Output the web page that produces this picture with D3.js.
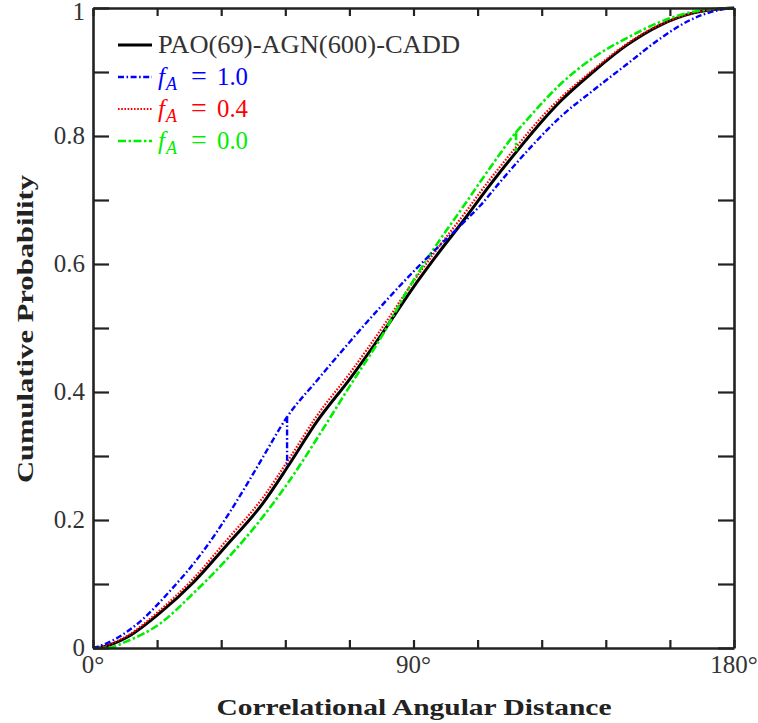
<!DOCTYPE html>
<html>
<head>
<meta charset="utf-8">
<script src="https://cdn.jsdelivr.net/npm/d3@7"></script>
<style>
  html, body { margin: 0; padding: 0; background: #fff; }
  svg { display: block; }
  text { font-family: "Liberation Serif", "DejaVu Serif", serif; }
</style>
</head>
<body>
<svg id="chart" width="758" height="723"></svg>
<script>
// ---------------- data ----------------
const xTickValues = [0, 18, 36, 54, 72, 90, 108, 126, 144, 162, 180];
const xTickLabels = { 0: "0°", 90: "90°", 180: "180°" };
const yTickValues = [0, 0.1, 0.2, 0.3, 0.4, 0.5, 0.6, 0.7, 0.8, 0.9, 1];
const yTickLabels = { 0: "0", 0.2: "0.2", 0.4: "0.4", 0.6: "0.6", 0.8: "0.8", 1: "1" };

const seriesNames = ["PAO(69)-AGN(600)-CADD", "f_A = 1.0", "f_A = 0.4", "f_A = 0.0"];

// [angle (deg), cumulative probability]
const paoData = [[0,0],[3,0.002],[9.3,0.016],[18.8,0.055],[28.1,0.102],[37.3,0.159],[47.7,0.226],[55,0.286],[62.9,0.354],[72.2,0.421],[81.4,0.493],[90,0.564],[95.5,0.606],[105,0.675],[108.7,0.703],[119,0.776],[126.4,0.825],[131.4,0.855],[140.4,0.9],[149.9,0.942],[159.2,0.973],[168.4,0.992],[175,0.998],[180,1]];
const fa10Data = [[0,0],[2.8,0.005],[12.1,0.036],[21.6,0.089],[30.9,0.151],[38.5,0.213],[44.1,0.264],[47.7,0.298],[54.5,0.361],[62.9,0.418],[72.2,0.479],[81.4,0.537],[91,0.594],[95.5,0.619],[105,0.67],[108.7,0.691],[114.3,0.728],[123.5,0.786],[131.1,0.829],[140.4,0.871],[149.9,0.912],[159.2,0.952],[168.4,0.983],[176,0.997],[180,1]];
const fa10Spike = [[54.5,0.361],[54.5,0.286]];
const fa04Data = [[0,0],[3,0.003],[9.3,0.018],[18.8,0.059],[28.1,0.108],[37.3,0.167],[47.7,0.235],[55,0.295],[62.9,0.363],[72.2,0.43],[81.4,0.502],[90,0.573],[95.5,0.615],[105,0.684],[108.7,0.712],[119,0.784],[126.4,0.832],[131.4,0.86],[140.4,0.903],[149.9,0.944],[159.2,0.974],[168.4,0.992],[175,0.998],[180,1]];
const fa00Data = [[0,0],[5,0.001],[9.3,0.01],[18.8,0.038],[28.1,0.085],[37.3,0.137],[47.7,0.205],[55,0.26],[65.7,0.352],[72.2,0.41],[81.4,0.49],[88,0.556],[95.5,0.622],[105,0.698],[108.7,0.728],[114,0.77],[118.8,0.806],[121.8,0.825],[131.1,0.88],[140.4,0.922],[149.9,0.953],[159.2,0.978],[168.4,0.994],[175,0.999],[180,1]];
const fa00Spike = [[118.8,0.806],[118.8,0.776]];

// ---------------- layout ----------------
(function () {
const svg = d3.select("#chart");
const pLeft = 93, pRight = 734, pTop = 8, pBottom = 648;
const x = d3.scaleLinear().domain([0, 180]).range([pLeft, pRight]);
const y = d3.scaleLinear().domain([0, 1]).range([pBottom, pTop]);
const axisColor = "#222";
const labelColor = "#333";

const styles = [
  { color: "#000000", width: 3,   dash: null },
  { color: "#0000ff", width: 2.4, dash: "6,2.5,1.6,2.5" },
  { color: "#ff0000", width: 2.2, dash: "1.6,1.6" },
  { color: "#00ee00", width: 2.6, dash: "8,2.5,2.5,2.5" }
];

// curves
const line = d3.line().x(d => x(d[0])).y(d => y(d[1])).curve(d3.curveMonotoneX);
const straight = d3.line().x(d => x(d[0])).y(d => y(d[1]));
const plot = svg.append("g");
function drawSeries(data, st, spike) {
  const p = plot.append("path").datum(data).attr("d", line)
    .attr("fill", "none").attr("stroke", st.color).attr("stroke-width", st.width)
    .attr("stroke-linejoin", "round");
  if (st.dash) p.attr("stroke-dasharray", st.dash);
  if (spike) {
    const s = plot.append("path").datum(spike).attr("d", straight)
      .attr("fill", "none").attr("stroke", st.color).attr("stroke-width", st.width);
    if (st.dash) s.attr("stroke-dasharray", st.dash);
  }
}
drawSeries(paoData, styles[0]);
drawSeries(fa04Data, styles[2]);
drawSeries(fa00Data, styles[3], fa00Spike);
drawSeries(fa10Data, styles[1], fa10Spike);

// axes (box with inward ticks)
const xMinorLen = 8, yTickLen = 16;
const axB = d3.axisBottom(x).tickValues(xTickValues).tickSizeInner(-xMinorLen).tickSizeOuter(0).tickFormat("");
const axT = d3.axisTop(x).tickValues(xTickValues).tickSizeInner(-xMinorLen).tickSizeOuter(0).tickFormat("");
const axL = d3.axisLeft(y).tickValues(yTickValues).tickSizeInner(-yTickLen).tickSizeOuter(0).tickFormat("");
const axR = d3.axisRight(y).tickValues(yTickValues).tickSizeInner(-yTickLen).tickSizeOuter(0).tickFormat("");
function styleAxis(g) {
  g.selectAll("path,line").attr("stroke", axisColor).attr("stroke-width", 2.2);
  g.select(".domain").attr("stroke-width", 2.6);
}
svg.append("g").attr("transform", `translate(0,${pBottom})`).call(axB).call(styleAxis);
svg.append("g").attr("transform", `translate(0,${pTop})`).call(axT).call(styleAxis);
svg.append("g").attr("transform", `translate(${pLeft},0)`).call(axL).call(styleAxis);
svg.append("g").attr("transform", `translate(${pRight},0)`).call(axR).call(styleAxis);

// tick labels
svg.append("g").selectAll("text").data(Object.keys(xTickLabels).map(Number)).join("text")
  .attr("x", d => x(d)).attr("y", 673).attr("text-anchor", "middle")
  .attr("font-size", 25).attr("fill", labelColor)
  .text(d => xTickLabels[d]);
svg.append("g").selectAll("text").data(Object.keys(yTickLabels).map(Number)).join("text")
  .attr("x", 85).attr("y", d => Math.max(y(d) + 8, 20)).attr("text-anchor", "end")
  .attr("font-size", 25).attr("fill", labelColor)
  .text(d => yTickLabels[d]);

// axis titles
svg.append("text").attr("x", 414).attr("y", 715).attr("text-anchor", "middle")
  .attr("font-size", 23).attr("font-weight", "bold").attr("fill", axisColor)
  .attr("textLength", 395).attr("lengthAdjust", "spacingAndGlyphs")
  .text("Correlational Angular Distance");
svg.append("text").attr("transform", "translate(33,329) rotate(-90)").attr("text-anchor", "middle")
  .attr("font-size", 23).attr("font-weight", "bold").attr("fill", axisColor)
  .attr("textLength", 308).attr("lengthAdjust", "spacingAndGlyphs")
  .text("Cumulative Probability");

// legend
const legendRows = [53, 85, 117, 149];
const lg = svg.append("g");
seriesNames.forEach((name, i) => {
  const st = styles[i];
  const by = legendRows[i];
  const l = lg.append("line").attr("x1", 118).attr("x2", 152).attr("y1", by - 8).attr("y2", by - 8)
    .attr("stroke", st.color).attr("stroke-width", st.width);
  if (st.dash) l.attr("stroke-dasharray", st.dash);
  const t = lg.append("text").attr("x", 158).attr("y", by).attr("font-size", 25)
    .attr("fill", i === 0 ? "#333" : st.color);
  if (i === 0) {
    t.attr("textLength", 302).attr("lengthAdjust", "spacingAndGlyphs").text(name);
  } else {
    const val = name.split("= ")[1];
    t.append("tspan").attr("x", 158).attr("font-style", "italic").text("f");
    t.append("tspan").attr("x", 166).attr("font-style", "italic").attr("font-size", 18).attr("dy", 5).text("A");
    t.append("tspan").attr("x", 191).attr("dy", -5).attr("font-size", 28).text("=");
    t.append("tspan").attr("x", 217).attr("textLength", 31).attr("lengthAdjust", "spacingAndGlyphs").text(val);
  }
});
})();
</script>
</body>
</html>
